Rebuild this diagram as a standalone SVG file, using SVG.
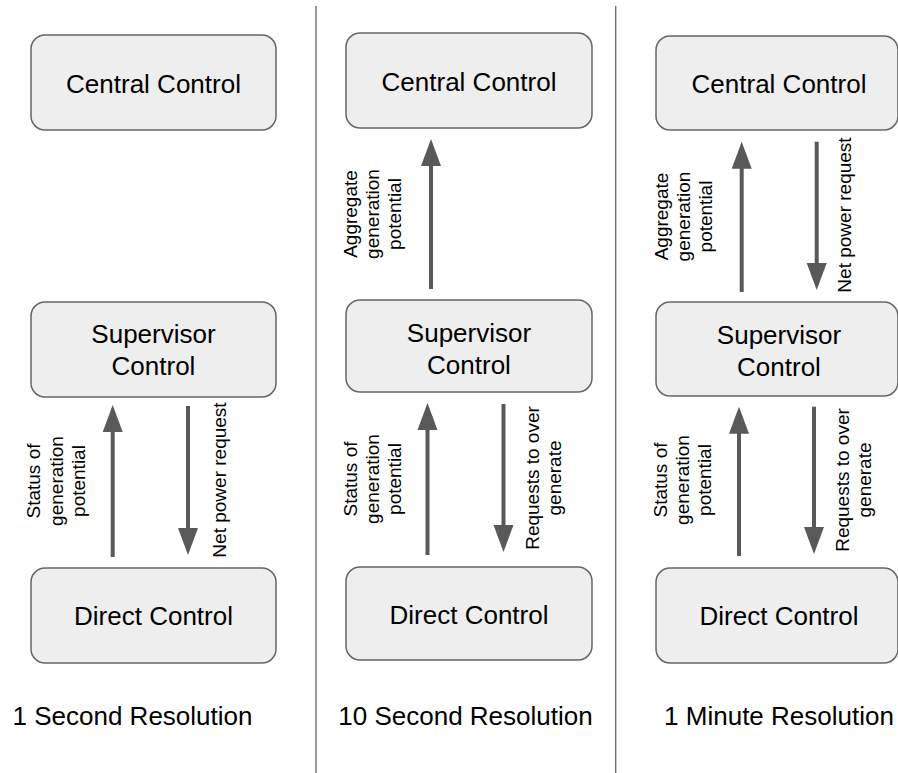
<svg xmlns="http://www.w3.org/2000/svg" width="898" height="773" viewBox="0 0 898 773">
  <style>
    .box { fill: #eeeeee; stroke: #666666; stroke-width: 1.5; }
    .title { font-family: "Liberation Sans", Arial, sans-serif; font-size: 26px; fill: #000; text-anchor: middle; }
    .lbl { font-family: "Liberation Sans", Arial, sans-serif; font-size: 19px; fill: #000; text-anchor: middle; }
    .flow { stroke: #595959; stroke-width: 4; fill: none; }
    .head { fill: #595959; }
    .divider { stroke: #666666; stroke-width: 1.3; }
  </style>
  <defs>
    <!-- arrowhead pointing up, tip at origin -->
    <path id="tipUp" class="head" d="M0,0 L10,27 L-10,27 Z"/>
    <!-- arrowhead pointing down, tip at origin -->
    <path id="tipDown" class="head" d="M0,0 L10,-27 L-10,-27 Z"/>
  </defs>
  <rect width="898" height="773" fill="#ffffff"/>

  <!-- column dividers -->
  <g id="dividers">
    <line class="divider" x1="316" y1="6" x2="316" y2="773"/>
    <line class="divider" x1="615.7" y1="6" x2="615.7" y2="773"/>
  </g>

  <!-- column 1: 1 second -->
  <g id="c1-central">
    <rect class="box" x="31" y="35" width="245" height="95" rx="14"/>
    <text class="title" x="153.5" y="93">Central Control</text>
  </g>
  <g id="c1-supervisor">
    <rect class="box" x="31" y="302" width="245" height="95" rx="14"/>
    <text class="title" x="153.5" y="343">Supervisor</text>
    <text class="title" x="153.5" y="375">Control</text>
  </g>
  <g id="c1-direct">
    <rect class="box" x="31" y="568" width="245" height="95" rx="14"/>
    <text class="title" x="153.5" y="625">Direct Control</text>
  </g>
  <text id="c1-caption" class="title" x="132.5" y="725">1 Second Resolution</text>

  <!-- column 2: 10 seconds -->
  <g id="c2-central">
    <rect class="box" x="346" y="33" width="246" height="95" rx="14"/>
    <text class="title" x="469" y="91">Central Control</text>
  </g>
  <g id="c2-supervisor">
    <rect class="box" x="346" y="300" width="246" height="92" rx="14"/>
    <text class="title" x="469" y="342">Supervisor</text>
    <text class="title" x="469" y="373.5">Control</text>
  </g>
  <g id="c2-direct">
    <rect class="box" x="346" y="567" width="246" height="93" rx="14"/>
    <text class="title" x="469" y="624">Direct Control</text>
  </g>
  <text id="c2-caption" class="title" x="465.5" y="725">10 Second Resolution</text>

  <!-- column 3: 1 minute -->
  <g id="c3-central">
    <rect class="box" x="656" y="36" width="242" height="94" rx="14"/>
    <text class="title" x="779" y="93">Central Control</text>
  </g>
  <g id="c3-supervisor">
    <rect class="box" x="656" y="302" width="242" height="94" rx="14"/>
    <text class="title" x="779" y="344">Supervisor</text>
    <text class="title" x="779" y="376">Control</text>
  </g>
  <g id="c3-direct">
    <rect class="box" x="656" y="568" width="242" height="95" rx="14"/>
    <text class="title" x="779" y="625">Direct Control</text>
  </g>
  <text id="c3-caption" class="title" x="779" y="725">1 Minute Resolution</text>

  <!-- connectors -->
  <g id="connectors">
    <!-- column 1 -->
    <line class="flow" x1="112.7" y1="557" x2="112.7" y2="428"/>
    <use href="#tipUp" x="112.7" y="405"/>
    <line class="flow" x1="188" y1="406" x2="188" y2="532"/>
    <use href="#tipDown" x="188" y="555"/>

    <!-- column 2 -->
    <line class="flow" x1="431" y1="289" x2="431" y2="162"/>
    <use href="#tipUp" x="431" y="139"/>
    <line class="flow" x1="427.5" y1="555" x2="427.5" y2="426"/>
    <use href="#tipUp" x="427.5" y="403"/>
    <line class="flow" x1="503.5" y1="404" x2="503.5" y2="529"/>
    <use href="#tipDown" x="503.5" y="552"/>

    <!-- column 3 -->
    <line class="flow" x1="741.7" y1="292" x2="741.7" y2="165"/>
    <use href="#tipUp" x="741.7" y="141.7"/>
    <line class="flow" x1="816.7" y1="141.7" x2="816.7" y2="267"/>
    <use href="#tipDown" x="816.7" y="290"/>
    <line class="flow" x1="739" y1="556" x2="739" y2="430"/>
    <use href="#tipUp" x="739" y="406.7"/>
    <line class="flow" x1="814" y1="406.7" x2="814" y2="531"/>
    <use href="#tipDown" x="814" y="554"/>
  </g>

  <!-- connector labels -->
  <g id="labels">
    <!-- column 1 -->
    <text class="lbl" transform="translate(40,481) rotate(-90)">Status of</text>
    <text class="lbl" transform="translate(62.5,481) rotate(-90)">generation</text>
    <text class="lbl" transform="translate(84.5,481) rotate(-90)">potential</text>
    <text class="lbl" transform="translate(226,480) rotate(-90)">Net power request</text>

    <!-- column 2 -->
    <text class="lbl" transform="translate(357,214) rotate(-90)">Aggregate</text>
    <text class="lbl" transform="translate(379,214) rotate(-90)">generation</text>
    <text class="lbl" transform="translate(401,214) rotate(-90)">potential</text>
    <text class="lbl" transform="translate(356.5,479) rotate(-90)">Status of</text>
    <text class="lbl" transform="translate(378.5,479) rotate(-90)">generation</text>
    <text class="lbl" transform="translate(400.5,479) rotate(-90)">potential</text>
    <text class="lbl" transform="translate(539.3,478) rotate(-90)">Requests to over</text>
    <text class="lbl" transform="translate(561.3,478) rotate(-90)">generate</text>

    <!-- column 3 -->
    <text class="lbl" transform="translate(668,216.5) rotate(-90)">Aggregate</text>
    <text class="lbl" transform="translate(690,216.5) rotate(-90)">generation</text>
    <text class="lbl" transform="translate(712,216.5) rotate(-90)">potential</text>
    <text class="lbl" transform="translate(851,215) rotate(-90)">Net power request</text>
    <text class="lbl" transform="translate(667,480) rotate(-90)">Status of</text>
    <text class="lbl" transform="translate(689,480) rotate(-90)">generation</text>
    <text class="lbl" transform="translate(711,480) rotate(-90)">potential</text>
    <text class="lbl" transform="translate(849,480) rotate(-90)">Requests to over</text>
    <text class="lbl" transform="translate(871,480) rotate(-90)">generate</text>
  </g>
</svg>
